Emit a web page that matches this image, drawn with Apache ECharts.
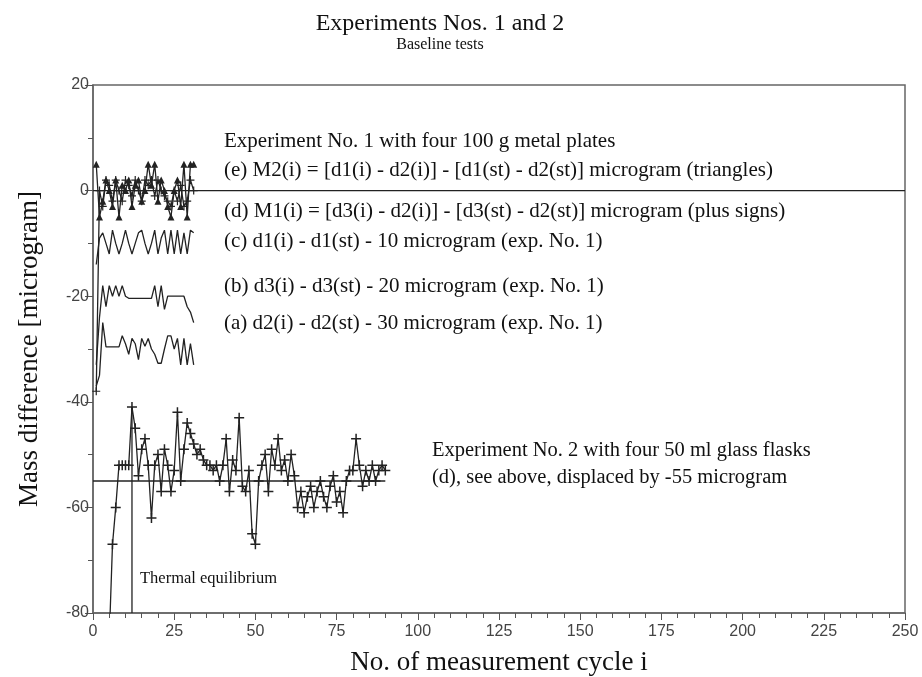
<!DOCTYPE html>
<html><head><meta charset="utf-8">
<script src="https://cdn.jsdelivr.net/npm/echarts@6/dist/echarts.min.js"></script>
<style>html,body{margin:0;padding:0;background:#fff}#c{width:922px;height:677px}</style>
</head><body><div id="c"></div>
<script>
// ---- data ----
const xTicks = [0, 25, 50, 75, 100, 125, 150, 175, 200, 225, 250];
const yTicks = [-80, -60, -40, -20, 0, 20];
// Experiment 1 (cycles 1..31)
const exp1Start = 1;
const seriesE_M2 = [5, -5, -2, 2, 0, -3, 2, -5, 1, 0, 2, -3, 1, 2, -2, 0, 5, 1, 5, -2, 2, 0, -3, -5, 0, 2, -3, 5, -5, 5, 5];
const seriesD_M1 = [-38, 0, -3, 2, 1, -2, 2, 0, -2, 2, 1, -1, 2, 0, -2, 2, 1, 2, -1, 2, 0, -1, -2, -3, 0, -2, 1, -3, -2, 2, 0];
const seriesC_d1 = [-14, -9, -8, -10, -12, -7.5, -10, -12, -10, -7.5, -10, -12, -10, -8, -7.5, -10, -12, -10, -7.5, -12, -9, -7.5, -12, -7.5, -12, -7.5, -12, -8, -12, -7.5, -8];
const seriesB_d3 = [-33, -24, -18, -22, -18, -20, -18, -20, -18, -20, -20.4, -20.4, -20.4, -20.4, -20.4, -20.4, -20.4, -20.4, -18, -22, -18, -22.5, -20, -20, -20, -20, -20, -20, -22, -23, -25];
const seriesA_d2 = [-37, -35, -25, -29.6, -29.6, -29.6, -29.6, -29.6, -27.5, -29, -31, -28, -29, -32, -28, -29.5, -28, -30, -31, -32.7, -32.7, -30, -27.5, -27.5, -30, -28, -33, -28, -33, -29, -33];
// Experiment 2 (cycles 5..90), displaced by -55
const exp2Start = 5;
const exp2Values = [-85, -67, -60, -52, -52, -52, -52, -41, -45, -54, -49, -47, -52, -62, -52, -50, -57, -49, -52, -57, -53, -42, -55, -49, -44, -46, -48, -50, -49, -51, -52, -52, -53, -52, -55, -52, -47, -57, -51, -53, -43, -56, -57, -53, -65, -67, -55, -52, -50, -57, -49, -52, -47, -53, -51, -55, -50, -54, -60, -57, -61, -58, -56, -60, -57, -55, -58, -60, -56, -54, -59, -57, -61, -55, -53, -53, -47, -52, -56, -53, -55, -52, -55, -53, -52, -53];
const zeroLine = [[0, 0], [250, 0]];
const exp2Level = [[0, -55], [90, -55]];
const thermalLine = [[12, -80], [12, -41]];

function pts(start, vals) { return vals.map((v, i) => [start + i, v]); }

const serif = '"Liberation Serif","DejaVu Serif",serif';
const sans = '"Liberation Sans","DejaVu Sans",sans-serif';
const ink = '#222';
const plusPath = 'path://M0,3.4H8V4.6H0Z M3.4,0H4.6V8H3.4Z';

const chart = echarts.init(document.getElementById('c'));
const lineStyle = { color: ink, width: 1.3 };
function lineSeries(data, symbol, size) {
  return {
    type: 'line', data: data, symbol: symbol || 'none', symbolSize: size || 0,
    showSymbol: !!symbol, lineStyle: lineStyle, itemStyle: { color: ink },
    animation: false, clip: true, z: 3
  };
}
function txt(x, y, s, size, align) {
  return { type: 'text', x: x, y: y, style: { text: s, font: size + 'px ' + serif, fill: '#111', align: align || 'left', verticalAlign: 'middle' } };
}
chart.setOption({
  animation: false,
  grid: { left: 93, right: 17, top: 85, bottom: 64, show: true, borderColor: '#666', borderWidth: 1.5, containLabel: false, outerBoundsMode: 'none' },
  xAxis: {
    type: 'value', min: 0, max: 250, interval: 25,
    axisLine: { show: true, onZero: false, lineStyle: { color: '#666', width: 1.5 } },
    axisTick: { show: true, length: 7, lineStyle: { color: '#555' } },
    minorTick: { show: true, splitNumber: 5, length: 5, lineStyle: { color: '#555' } },
    splitLine: { show: false },
    axisLabel: { fontFamily: sans, fontSize: 16, color: '#444', margin: 11 },
    name: 'No. of measurement cycle i', nameLocation: 'middle', nameGap: 36,
    nameTextStyle: { fontFamily: serif, fontSize: 27, color: '#111' }
  },
  yAxis: {
    type: 'value', min: -80, max: 20, interval: 20,
    axisLine: { show: true, onZero: false, lineStyle: { color: '#666', width: 1.5 } },
    axisTick: { show: true, length: 8, lineStyle: { color: '#555' } },
    minorTick: { show: true, splitNumber: 2, length: 5, lineStyle: { color: '#555' } },
    splitLine: { show: false },
    axisLabel: { fontFamily: sans, fontSize: 16, color: '#444', margin: 4 },
    name: 'Mass difference [microgram]', nameLocation: 'middle', nameGap: 50, nameRotate: 90,
    nameTextStyle: { fontFamily: serif, fontSize: 27, color: '#111' }
  },
  series: [
    lineSeries(zeroLine),
    lineSeries(exp2Level),
    lineSeries(thermalLine),
    lineSeries(pts(exp1Start, seriesA_d2)),
    lineSeries(pts(exp1Start, seriesB_d3)),
    lineSeries(pts(exp1Start, seriesC_d1)),
    lineSeries(pts(exp1Start, seriesD_M1), plusPath, 8),
    lineSeries(pts(exp1Start, seriesE_M2), 'triangle', 7),
    lineSeries(pts(exp2Start, exp2Values), plusPath, 10)
  ],
  graphic: [
    txt(440, 24, 'Experiments Nos. 1 and 2', 24, 'center'),
    txt(440, 45, 'Baseline tests', 16, 'center'),
    txt(224, 141, 'Experiment No. 1 with four 100 g metal plates', 21),
    txt(224, 170, '(e) M2(i) = [d1(i) - d2(i)] - [d1(st) - d2(st)] microgram (triangles)', 21),
    txt(224, 211, '(d) M1(i) = [d3(i) - d2(i)] - [d3(st) - d2(st)] microgram (plus signs)', 21),
    txt(224, 241, '(c) d1(i) - d1(st) - 10 microgram (exp. No. 1)', 21),
    txt(224, 286, '(b) d3(i) - d3(st) - 20 microgram (exp. No. 1)', 21),
    txt(224, 323, '(a) d2(i) - d2(st) - 30 microgram (exp. No. 1)', 21),
    txt(432, 451, 'Experiment No. 2 with four 50 ml glass flasks', 20.5),
    txt(432, 478, '(d), see above, displaced by -55 microgram', 20.5),
    txt(140, 579, 'Thermal equilibrium', 16.5)
  ]
});
</script></body></html>
